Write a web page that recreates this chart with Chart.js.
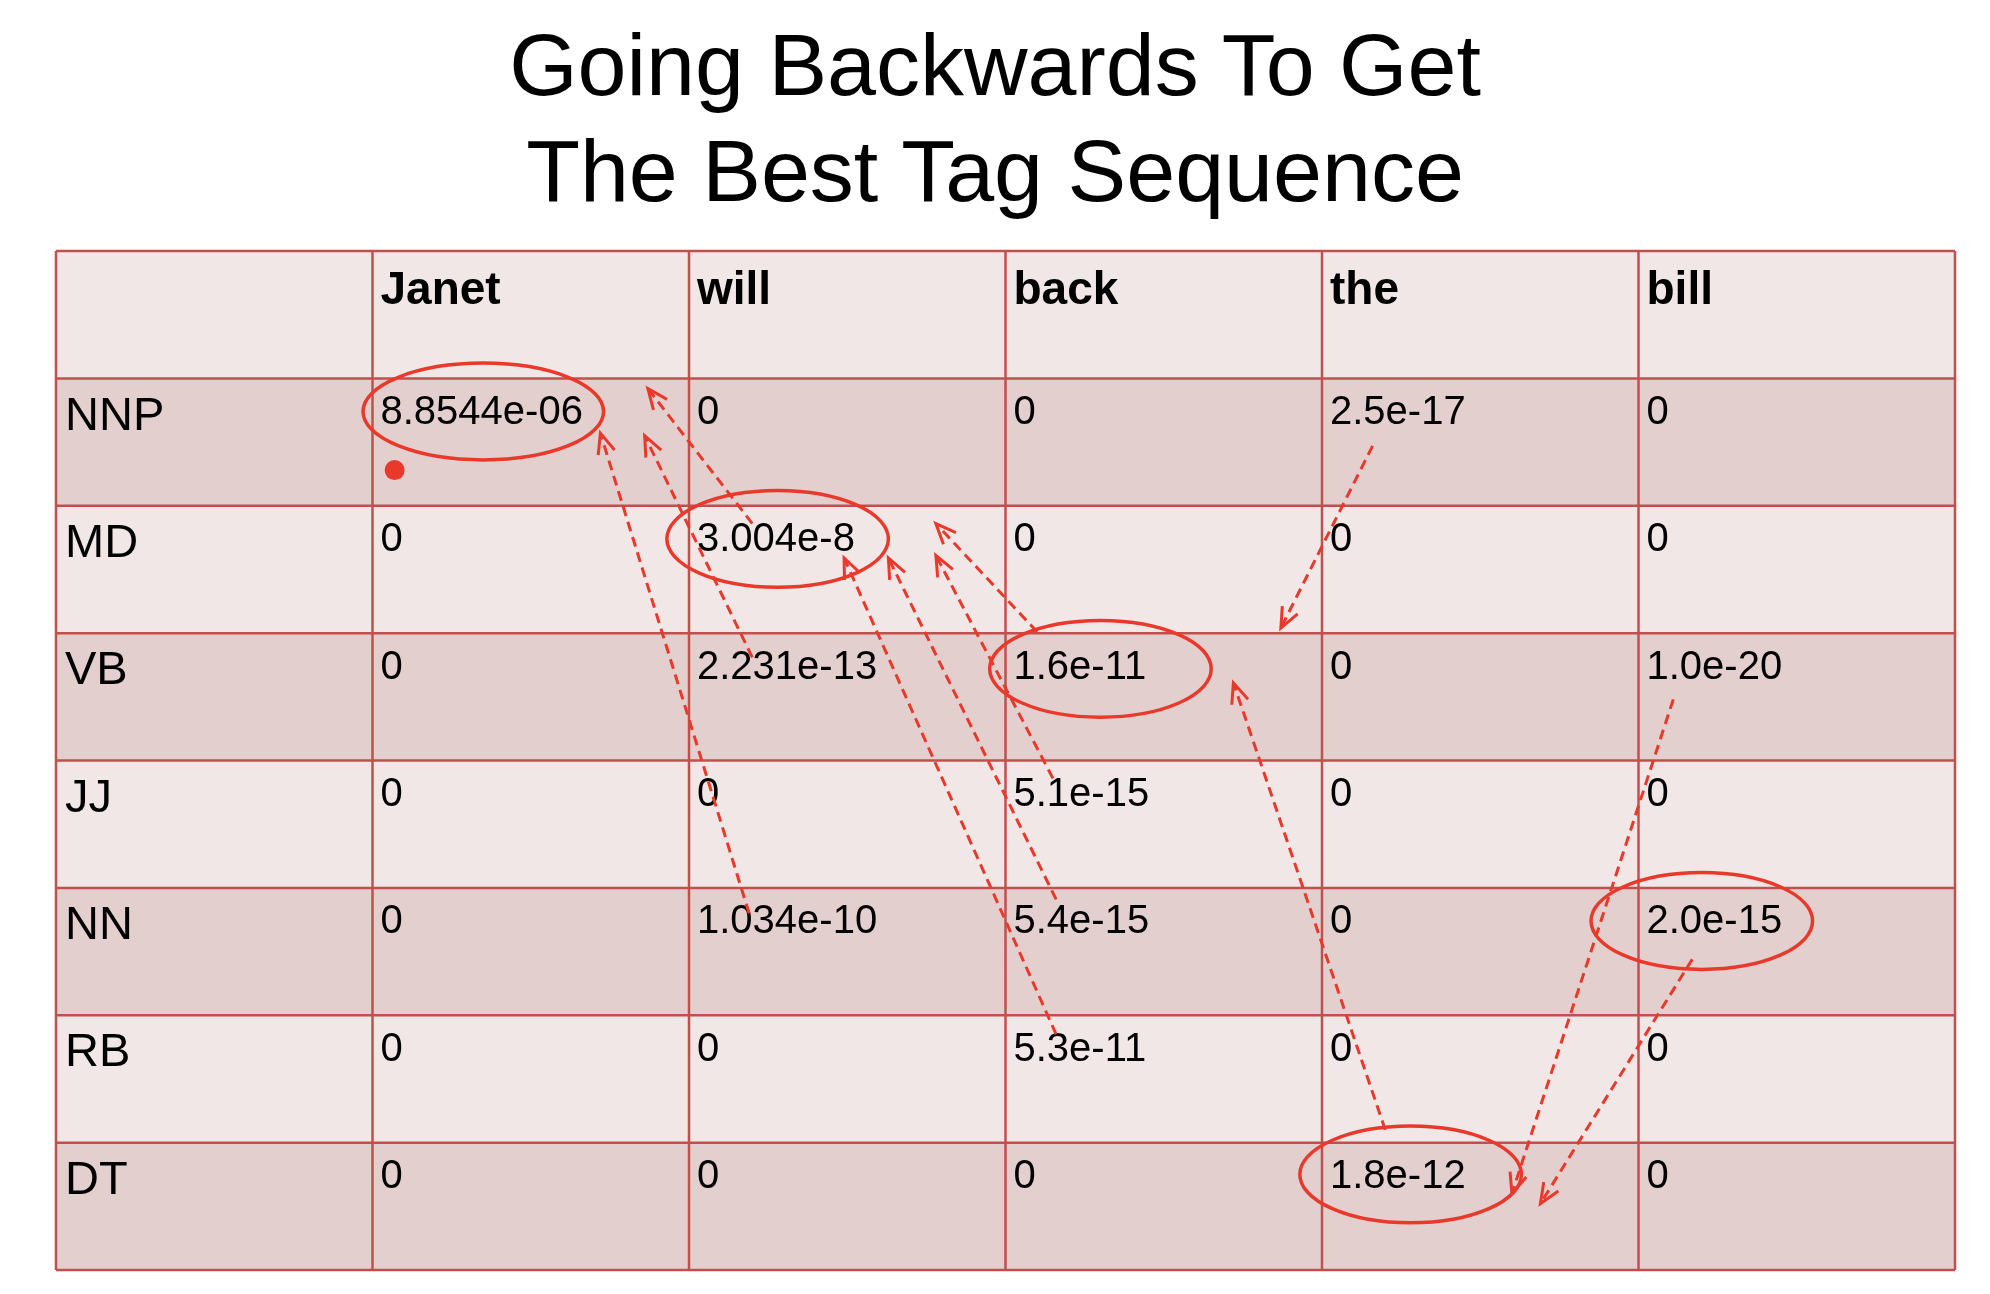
<!DOCTYPE html>
<html>
<head>
<meta charset="utf-8">
<script src="https://cdn.jsdelivr.net/npm/chart.js@4"></script>
<style>
  body { margin: 0; background: #fff; }
  #title { font-family: "Liberation Sans", Arial, sans-serif; font-size: 88px; text-align: center;
           line-height: 106px; position: absolute; top: 12px; left: 0; width: 1990px; color: #000; }
</style>
</head>
<body>
<div id="title">Going Backwards To Get<br>The Best Tag Sequence</div>
<canvas id="grid" width="1990" height="1294"></canvas>
<script>
// table contents
const words = ["Janet", "will", "back", "the", "bill"];
const tags = ["NNP", "MD", "VB", "JJ", "NN", "RB", "DT"];
const cells = [
  ["8.8544e-06", "0", "0", "2.5e-17", "0"],
  ["0", "3.004e-8", "0", "0", "0"],
  ["0", "2.231e-13", "1.6e-11", "0", "1.0e-20"],
  ["0", "0", "5.1e-15", "0", "0"],
  ["0", "1.034e-10", "5.4e-15", "0", "2.0e-15"],
  ["0", "0", "5.3e-11", "0", "0"],
  ["0", "0", "0", "1.8e-12", "0"]
];

// backpointer arrows, in table units [col, row] tail -> head
const arrows = [
  [[2.19, 5.20], [1.72, 1.43]],
  [[2.20, 3.19], [1.86, 1.45]],
  [[2.20, 2.14], [1.87, 1.08]],
  [[3.10, 2.99], [2.78, 2.14]],
  [[3.15, 4.14], [2.78, 2.39]],
  [[3.16, 5.09], [2.63, 2.41]],
  [[3.16, 6.15], [2.49, 2.41]],
  [[4.16, 1.53], [3.87, 2.96]],
  [[4.20, 6.90], [3.72, 3.39]],
  [[5.11, 3.52], [4.60, 7.40]],
  [[5.17, 5.56], [4.69, 7.48]]
];
// circled cells: [col, row, radius x, radius y]
const circles = [
  [1.35, 1.26, 0.38, 0.38],
  [2.28, 2.26, 0.35, 0.38],
  [3.30, 3.28, 0.35, 0.38],
  [5.20, 5.26, 0.35, 0.38],
  [4.28, 7.25, 0.35, 0.38]
];
const startDot = [1.07, 1.72];

const red = "#e8392b";
const border = "#c0504d";

const tablePlugin = {
  id: "table",
  beforeDatasetsDraw(chart) {
    const { ctx, scales: { x, y } } = chart;
    const nCols = words.length + 1, nRows = tags.length + 1;
    // row fills
    for (let r = 0; r < nRows; r++) {
      ctx.fillStyle = (r === 0 || r % 2 === 0) ? "#f1e7e7" : "#e4cfcf";
      ctx.fillRect(x.getPixelForValue(0), y.getPixelForValue(r),
        x.getPixelForValue(nCols) - x.getPixelForValue(0),
        y.getPixelForValue(r + 1) - y.getPixelForValue(r));
    }
    ctx.strokeStyle = border;
    ctx.lineWidth = 2.5;
    for (let c = 0; c <= nCols; c++) {
      ctx.beginPath();
      ctx.moveTo(x.getPixelForValue(c), y.getPixelForValue(0));
      ctx.lineTo(x.getPixelForValue(c), y.getPixelForValue(nRows));
      ctx.stroke();
    }
    for (let r = 0; r <= nRows; r++) {
      ctx.beginPath();
      ctx.moveTo(x.getPixelForValue(0), y.getPixelForValue(r));
      ctx.lineTo(x.getPixelForValue(nCols), y.getPixelForValue(r));
      ctx.stroke();
    }
    // text
    ctx.fillStyle = "#000";
    ctx.textBaseline = "middle";
    ctx.textAlign = "left";
    ctx.font = "bold 46px 'Liberation Sans', Arial, sans-serif";
    words.forEach((w, i) => ctx.fillText(w, x.getPixelForValue(i + 1) + 8, y.getPixelForValue(0.32)));
    ctx.font = "47px 'Liberation Sans', Arial, sans-serif";
    tags.forEach((t, i) => ctx.fillText(t, x.getPixelForValue(0) + 9, y.getPixelForValue(i + 1.3)));
    ctx.font = "40px 'Liberation Sans', Arial, sans-serif";
    cells.forEach((row, r) => row.forEach((v, c) =>
      ctx.fillText(v, x.getPixelForValue(c + 1) + 8, y.getPixelForValue(r + 1.27))));
  },
  afterDatasetsDraw(chart) {
    const { ctx, scales: { x, y } } = chart;
    ctx.strokeStyle = red;
    ctx.lineWidth = 3.5;
    circles.forEach(([cx, cy, rx, ry]) => {
      const px = x.getPixelForValue(cx), py = y.getPixelForValue(cy);
      const w = x.getPixelForValue(cx + rx) - px, h = y.getPixelForValue(cy + ry) - py;
      ctx.beginPath();
      ctx.ellipse(px, py, w, h, 0, 0, Math.PI * 2);
      ctx.stroke();
    });
    ctx.fillStyle = red;
    ctx.beginPath();
    ctx.arc(x.getPixelForValue(startDot[0]), y.getPixelForValue(startDot[1]), 10, 0, Math.PI * 2);
    ctx.fill();
    arrows.forEach(([a, b]) => {
      const x1 = x.getPixelForValue(a[0]), y1 = y.getPixelForValue(a[1]);
      const x2 = x.getPixelForValue(b[0]), y2 = y.getPixelForValue(b[1]);
      ctx.setLineDash([10, 6]);
      ctx.lineWidth = 3;
      ctx.beginPath(); ctx.moveTo(x1, y1); ctx.lineTo(x2, y2); ctx.stroke();
      ctx.setLineDash([]);
      const ang = Math.atan2(y2 - y1, x2 - x1), L = 22;
      ctx.beginPath();
      ctx.moveTo(x2 - L * Math.cos(ang - 0.4), y2 - L * Math.sin(ang - 0.4));
      ctx.lineTo(x2, y2);
      ctx.lineTo(x2 - L * Math.cos(ang + 0.4), y2 - L * Math.sin(ang + 0.4));
      ctx.stroke();
    });
  }
};

new Chart(document.getElementById("grid"), {
  type: "scatter",
  data: { datasets: [{ data: [], pointRadius: 0 }] },
  options: {
    responsive: false,
    animation: false,
    layout: { padding: { left: 56, right: 35, top: 251, bottom: 24 } },
    plugins: { legend: { display: false }, tooltip: { enabled: false } },
    scales: {
      x: { type: "linear", min: 0, max: 6, display: false },
      y: { type: "linear", min: 0, max: 8, reverse: true, display: false }
    }
  },
  plugins: [tablePlugin]
});
</script>
</body>
</html>
